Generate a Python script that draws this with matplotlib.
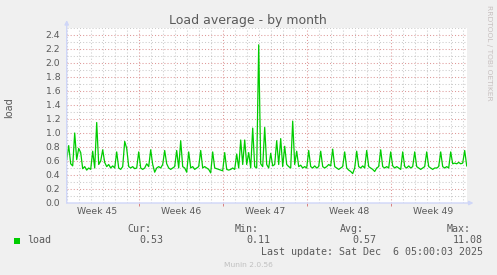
"""Munin style 'Load average - by month' graph."""

import matplotlib

matplotlib.use("Agg")
import matplotlib.pyplot as plt
import numpy as np
from matplotlib.patches import Rectangle

# 4 hour averages, oldest first
load = [
    0.62, 0.82, 0.56, 0.53, 1.00, 0.62, 0.78, 0.72, 0.49, 0.52,
    0.47, 0.50, 0.48, 0.74, 0.50, 1.15, 0.55, 0.60, 0.76, 0.58,
    0.52, 0.55, 0.50, 0.53, 0.50, 0.73, 0.50, 0.48, 0.52, 0.88,
    0.78, 0.52, 0.50, 0.52, 0.49, 0.50, 0.73, 0.50, 0.48, 0.50,
    0.56, 0.52, 0.76, 0.55, 0.44, 0.50, 0.52, 0.50, 0.55, 0.75,
    0.56, 0.50, 0.48, 0.50, 0.52, 0.75, 0.50, 0.89, 0.52, 0.50,
    0.44, 0.73, 0.50, 0.52, 0.48, 0.50, 0.52, 0.75, 0.50, 0.52,
    0.50, 0.48, 0.43, 0.73, 0.50, 0.49, 0.48, 0.47, 0.46, 0.72,
    0.48, 0.47, 0.48, 0.50, 0.48, 0.70, 0.50, 0.90, 0.55, 0.90,
    0.55, 0.72, 0.50, 1.07, 0.52, 0.50, 2.26, 0.56, 0.52, 1.08,
    0.55, 0.50, 0.71, 0.53, 0.55, 0.89, 0.55, 0.92, 0.52, 0.81,
    0.55, 0.52, 0.50, 1.17, 0.55, 0.74, 0.52, 0.54, 0.50, 0.52,
    0.50, 0.75, 0.52, 0.50, 0.53, 0.50, 0.52, 0.74, 0.52, 0.50,
    0.52, 0.55, 0.53, 0.77, 0.52, 0.50, 0.48, 0.50, 0.52, 0.73,
    0.50, 0.47, 0.45, 0.42, 0.50, 0.74, 0.52, 0.50, 0.53, 0.50,
    0.75, 0.52, 0.50, 0.48, 0.45, 0.50, 0.52, 0.76, 0.52, 0.50,
    0.52, 0.50, 0.73, 0.53, 0.50, 0.52, 0.50, 0.48, 0.73, 0.52,
    0.50, 0.53, 0.50, 0.52, 0.73, 0.52, 0.50, 0.48, 0.50, 0.52,
    0.73, 0.52, 0.50, 0.48, 0.50, 0.50, 0.52, 0.73, 0.52, 0.50,
    0.52, 0.50, 0.73, 0.56, 0.57, 0.56, 0.58, 0.56, 0.57, 0.75,
    0.53,
]
step_hours = 4
first_week_start = 6.05  # days from the left edge to the first week boundary
week_labels = ["Week 45", "Week 46", "Week 47", "Week 48", "Week 49"]
y_top = 2.5

legend_name = "load"
legend_headers = ["Cur:", "Min:", "Avg:", "Max:"]
legend_values = ["0.53", "0.11", "0.57", "11.08"]
last_update = "Last update: Sat Dec  6 05:00:03 2025"

W, H = 497, 275
BACK = "#F0F0F0"
FONT = "#5a5a5a"
AXIS = "#CFD6F8"
LINE = "#00CC00"
GRID = (0.55, 0.55, 0.55, 0.45)
MGRID = (0.75, 0.2, 0.2, 0.5)
MONO = "DejaVu Sans Mono"


def fx(x: float) -> float:
    return x / W


def fy(y: float) -> float:
    return 1 - y / H


days = np.arange(len(load)) * step_hours / 24.0
x_end = days[-1]

fig = plt.figure(figsize=(W / 100, H / 100), dpi=100, facecolor=BACK)
ax = fig.add_axes([fx(66.7), fy(203), 400 / W, 175 / H])
ax.set_facecolor("white")
ax.set_xlim(0, x_end)
ax.set_ylim(0, y_top)
for spine in ax.spines.values():
    spine.set_visible(False)

# grid, rrdtool style
dot = (0, (1, 2))
for d in np.arange(first_week_start - 7, x_end, 1.0):
    if d <= 0.01:
        continue
    major = abs(((d - first_week_start) / 7) - round((d - first_week_start) / 7)) < 1e-6
    ax.axvline(d, color=MGRID if major else GRID, lw=0.75, ls=dot, zorder=1)
for k in range(1, 26):
    v = k / 10
    ax.axhline(v, color=MGRID if k % 2 == 0 else GRID, lw=0.75, ls=dot, zorder=1)

ax.plot(days, load, color=LINE, lw=0.9, zorder=3)

# axes with arrows
ax.annotate("", xy=(1.017, 0), xytext=(0, 0), xycoords="axes fraction",
            arrowprops=dict(arrowstyle="-|>", color=AXIS, lw=1, mutation_scale=6,
                            shrinkA=0, shrinkB=0), annotation_clip=False)
ax.annotate("", xy=(0, 1.045), xytext=(0, 0), xycoords="axes fraction",
            arrowprops=dict(arrowstyle="-|>", color=AXIS, lw=1, mutation_scale=6,
                            shrinkA=0, shrinkB=0), annotation_clip=False)

yticks = np.arange(0, 2.41, 0.2)
ax.set_yticks(yticks)
ax.set_yticklabels([f"{v:.1f}" for v in yticks])
week_starts = first_week_start + 7 * np.arange(-1, 4)
ax.set_xticks(week_starts + 3.5)
ax.set_xticklabels(week_labels)
ax.set_xticks(week_starts[1:], minor=True)
ax.tick_params(axis="both", which="major", length=0, labelsize=6.7, labelcolor=FONT)
ax.tick_params(axis="y", pad=4.5)
ax.tick_params(axis="x", pad=3)
ax.tick_params(axis="x", which="minor", length=2.2, width=0.7, color=(0.85, 0.5, 0.5))
ax.tick_params(axis="y", which="minor", length=0)

fig.text(fx(247.5), fy(24), "Load average - by month", ha="center", va="baseline",
         fontsize=9, color=FONT)
fig.text(fx(9), fy(108), "load", rotation=90, ha="center", va="center",
         fontsize=7, color=FONT)
fig.text(fx(489), fy(53), "RRDTOOL / TOBI OETIKER", rotation=270, ha="center",
         va="center", fontsize=5.4, color="#c8c0c0")

# legend block
header_left = [127.7, 234.3, 340.0, 446.7]
value_right = [163.0, 270.0, 376.3, 482.7]
for label, xl in zip(legend_headers, header_left):
    fig.text(fx(xl), fy(231.5), label, ha="left", va="baseline",
             family=MONO, fontsize=7.2, color=FONT)
for value, xr in zip(legend_values, value_right):
    fig.text(fx(xr), fy(243), value, ha="right", va="baseline",
             family=MONO, fontsize=7.2, color=FONT)
fig.patches.append(Rectangle((fx(14), fy(243.5)), 6 / W, 6 / H, transform=fig.transFigure,
                             facecolor=LINE, edgecolor="none"))
fig.text(fx(26.7), fy(243), legend_name, ha="left", va="baseline",
         family=MONO, fontsize=7.2, color=FONT)
fig.text(fx(482.7), fy(254.7), last_update, ha="right", va="baseline",
         family=MONO, fontsize=7.2, color=FONT)
fig.text(fx(248), fy(267), "Munin 2.0.56", ha="center", va="baseline",
         fontsize=5.4, color="#c0c0c0")

fig.savefig("out.png", dpi=100, facecolor=BACK)
